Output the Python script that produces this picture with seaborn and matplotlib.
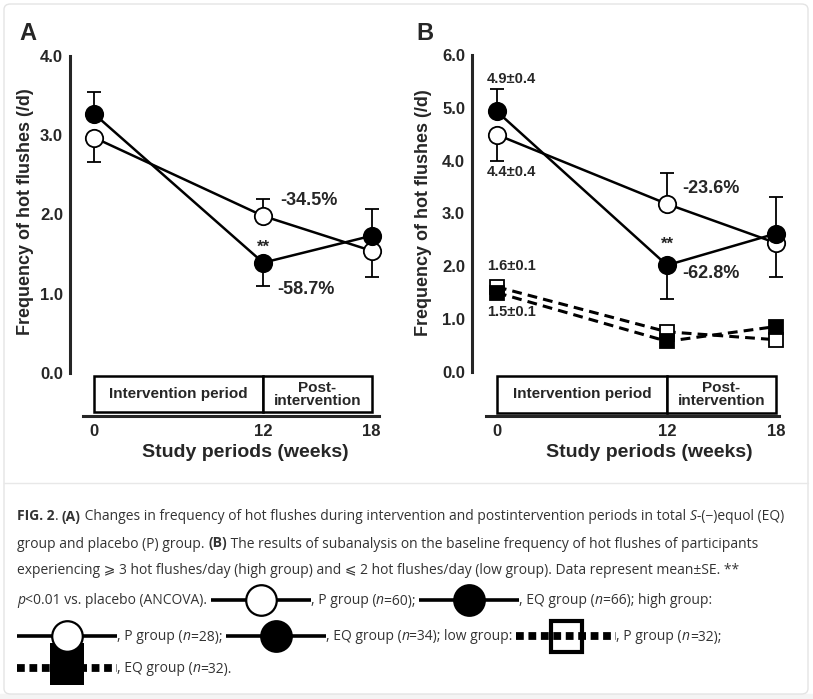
import matplotlib
matplotlib.use("Agg")
import matplotlib.pyplot as plt
import seaborn as sns
from matplotlib.lines import Line2D
from matplotlib.patches import Rectangle, FancyBboxPatch

# x axis (week 18 sits a little further out in the original)
weeks = ["0", "12", "18"]
week_pos = [0, 12, 19.7]

# A: total groups, mean and SE
a_p_mean = [2.97, 1.98, 1.54]
a_p_se = [0.31, 0.22, 0.33]
a_eq_mean = [3.27, 1.39, 1.73]
a_eq_se = [0.28, 0.30, 0.34]

# B: high group
b_hp_mean = [4.49, 3.18, 2.44]
b_hp_se = [0.49, 0.59, 0.64]
b_heq_mean = [4.93, 2.02, 2.62]
b_heq_se = [0.43, 0.64, 0.69]
# B: low group
b_lp_mean = [1.61, 0.76, 0.61]
b_leq_mean = [1.50, 0.58, 0.86]

# which side the SE bar is drawn on (+1 up, -1 down)
p_side = [-1, 1, -1]
eq_side = [1, -1, 1]

sns.set_style("white")
plt.rcParams['font.family'] = ['Liberation Sans', 'DejaVu Sans']

W, H = 813, 699
fig = plt.figure(figsize=(W / 100, H / 100), dpi=100)
fig.patch.set_facecolor('white')


def fx(px):
    return px / W


def fy(py):
    return 1 - py / H


# frame and separator
fig.add_artist(Rectangle((0, 0), 1, fy(694), transform=fig.transFigure, color='#f4f4f4', zorder=0))
fig.add_artist(FancyBboxPatch((fx(4), fy(694)), fx(804), 690 / H, boxstyle='round,pad=0,rounding_size=0.008',
                              transform=fig.transFigure, facecolor='white', edgecolor='#e4e4e4', lw=1, zorder=0))
fig.add_artist(Line2D([fx(4), fx(808)], [fy(483), fy(483)], transform=fig.transFigure, color='#e8e8e8', lw=1))


def split_err(se, side):
    lo = [e if s < 0 else 0 for e, s in zip(se, side)]
    hi = [e if s > 0 else 0 for e, s in zip(se, side)]
    return [lo, hi]


def draw_group(ax, mean, se, side, face):
    ax.errorbar(week_pos, mean, yerr=split_err(se, side), fmt='none', ecolor='black',
                elinewidth=1.3, capsize=5, capthick=1.3, zorder=2)
    sns.lineplot(x=week_pos, y=mean, ax=ax, color='black', lw=1.8, marker='o', markersize=12.5,
                 markerfacecolor=face, markeredgecolor='black', markeredgewidth=1.3, zorder=3)


def setup_axes(ax, ymax, box_top, box_bot, line_y, line_end, xlab_x, ylab_x, ylab_y):
    ax.set_facecolor('none')
    for s in ['top', 'right']:
        ax.spines[s].set_visible(False)
    ax.spines['left'].set_bounds(0, ymax)
    ax.spines['left'].set_linewidth(2.2)
    ax.spines['bottom'].set_position(('data', line_y))
    ax.spines['bottom'].set_bounds(-0.8, line_end)
    ax.spines['bottom'].set_linewidth(2.2)
    yt = list(range(0, ymax + 1))
    ax.set_yticks(yt)
    ax.set_yticklabels([f"{v:.1f}" for v in yt], fontweight='bold', fontsize=12)
    ax.tick_params(axis='y', direction='out', length=4, width=2, pad=1)
    ax.set_xticks(week_pos)
    ax.set_xticklabels(weeks, fontweight='bold', fontsize=12)
    ax.tick_params(axis='x', length=0, pad=6)
    ax.set_xlabel('Study periods (weeks)', fontsize=14, fontweight='bold')
    ax.xaxis.set_label_coords(xlab_x, 0.03)
    ax.set_ylabel('Frequency of hot flushes (/d)', fontsize=13, fontweight='bold', va='center')
    ax.yaxis.set_label_coords(ylab_x, ylab_y)
    # period boxes
    for x0, x1 in [(week_pos[0], week_pos[1]), (week_pos[1], week_pos[2])]:
        ax.add_patch(Rectangle((x0, box_bot), x1 - x0, box_top - box_bot, facecolor='white',
                               edgecolor='black', lw=1.8, zorder=1))
    ymid = (box_top + box_bot) / 2
    ax.text((week_pos[0] + week_pos[1]) / 2, ymid, 'Intervention period', ha='center', va='center',
            fontsize=11, fontweight='bold')
    ax.text((week_pos[1] + week_pos[2]) / 2, ymid, 'Post-\nintervention', ha='center', va='center',
            fontsize=11, fontweight='bold', linespacing=0.9)


# Panel A
axA = fig.add_axes([fx(70), fy(456), 320 / W, 408 / H])
axA.set_xlim(-1.7, 21)
axA.set_ylim(-1.05, 4.1)
draw_group(axA, a_p_mean, a_p_se, p_side, 'white')
draw_group(axA, a_eq_mean, a_eq_se, eq_side, 'black')
setup_axes(axA, 4, -0.04, -0.5, -0.54, 20.2, 0.547, -0.14, 0.598)
axA.text(13.2, 2.18, '-34.5%', fontsize=13, fontweight='bold', va='center')
axA.text(13.0, 1.05, '-58.7%', fontsize=13, fontweight='bold', va='center')
axA.text(12, 1.58, '**', fontsize=12, fontweight='bold', ha='center', va='center')
fig.text(fx(19), fy(33), 'A', fontsize=17, fontweight='bold', va='center')

# Panel B
axB = fig.add_axes([fx(472), fy(456.5), 322.5 / W, 409.5 / H])
axB.set_xlim(-1.76, 21)
axB.set_ylim(-1.6, 6.15)
draw_group(axB, b_hp_mean, b_hp_se, p_side, 'white')
draw_group(axB, b_heq_mean, b_heq_se, eq_side, 'black')
for mean, face in [(b_lp_mean, 'white'), (b_leq_mean, 'black')]:
    sns.lineplot(x=week_pos, y=mean, ax=axB, color='black', lw=2.2, linestyle=(0, (3.2, 2)),
                 marker='s', markersize=10, markerfacecolor=face, markeredgecolor='black',
                 markeredgewidth=1.3, zorder=3)
setup_axes(axB, 6, -0.07, -0.78, -0.83, 19.9, 0.549, -0.15, 0.595)
for txt, y in [('4.9±0.4', 5.55), ('4.4±0.4', 3.79), ('1.6±0.1', 2.0), ('1.5±0.1', 1.14)]:
    axB.text(1.0, y, txt, fontsize=10.5, fontweight='bold', ha='center', va='center')
axB.text(13.1, 3.48, '-23.6%', fontsize=13, fontweight='bold', va='center')
axB.text(13.1, 1.87, '-62.8%', fontsize=13, fontweight='bold', va='center')
axB.text(12, 2.42, '**', fontsize=12, fontweight='bold', ha='center', va='center')
fig.text(fx(416), fy(33), 'B', fontsize=17, fontweight='bold', va='center')

# caption
cap_font = ['Open Sans', 'DejaVu Sans']
cap_color = '#333333'
cap_size = 10
renderer = fig.canvas.get_renderer()
styles = {'n': {}, 'b': {'fontweight': 'bold'}, 'i': {'fontstyle': 'italic'}}


def text_w(s, kw):
    t = fig.text(0, 0, s + '|', **kw)
    bar = fig.text(0, 0, '|', **kw)
    w = t.get_window_extent(renderer).width - bar.get_window_extent(renderer).width
    t.remove()
    bar.remove()
    return w


def glyph(kind, x, y):
    w = 100
    xc = x + w / 2
    if kind in ('Pc', 'EQc'):
        fig.add_artist(Line2D([fx(x), fx(x + w)], [fy(y), fy(y)], transform=fig.transFigure,
                              color='black', lw=2.6, solid_capstyle='butt'))
        fig.add_artist(Line2D([fx(xc)], [fy(y)], transform=fig.transFigure, marker='o', ms=22,
                              mfc='white' if kind == 'Pc' else 'black', mec='black', mew=1.6))
    else:
        fig.add_artist(Line2D([fx(x), fx(x + w)], [fy(y), fy(y)], transform=fig.transFigure,
                              color='black', lw=5.6, linestyle=(0, (1, 0.6)), dash_capstyle='butt'))
        if kind == 'Plow':
            rw, rh = 31, 31
            fig.add_artist(Rectangle((fx(xc - rw / 2), fy(y + rh / 2)), rw / W, rh / H,
                                     transform=fig.transFigure, facecolor='white', edgecolor='black', lw=3))
        else:
            rw, rh = 34, 42
            fig.add_artist(Rectangle((fx(xc - rw / 2), fy(y + rh / 2 - 4)), rw / W, rh / H,
                                     transform=fig.transFigure, facecolor='black', edgecolor='black', lw=0))
    return w


caption = [
    (516, [('FIG. 2', 'b'), ('. ', 'n'), ('(A)', 'b'),
           (' Changes in frequency of hot flushes during intervention and postintervention periods in total ', 'n'),
           ('S', 'i'), ('-(−)equol (EQ)', 'n')]),
    (543, [('group and placebo (P) group. ', 'n'), ('(B)', 'b'),
           (' The results of subanalysis on the baseline frequency of hot flushes of participants', 'n')]),
    (570, [('experiencing ⩾ 3 hot flushes/day (high group) and ⩽ 2 hot flushes/day (low group). '
            'Data represent mean±SE. **', 'n')]),
    (600, [('p', 'i'), ('<0.01 vs. placebo (ANCOVA). ', 'n'), ('Pc', 'g'), (', P group (', 'n'), ('n', 'i'),
           ('=60); ', 'n'), ('EQc', 'g'), (', EQ group (', 'n'), ('n', 'i'), ('=66); high group:', 'n')]),
    (636, [('Pc', 'g'), (', P group (', 'n'), ('n', 'i'), ('=28); ', 'n'), ('EQc', 'g'), (', EQ group (', 'n'),
           ('n', 'i'), ('=34); low group: ', 'n'), ('Plow', 'g'), (', P group (', 'n'), ('n', 'i'),
           ('=32);', 'n')]),
    (668, [('EQlow', 'g'), (', EQ group (', 'n'), ('n', 'i'), ('=32).', 'n')]),
]

for yc, runs in caption:
    x = 17
    for s, st in runs:
        if st == 'g':
            x += glyph(s, x, yc)
            continue
        kw = dict(fontsize=cap_size, color=cap_color, family=cap_font, **styles[st])
        fig.text(fx(x), fy(yc + 4.5), s, va='baseline', ha='left', **kw)
        x += text_w(s, kw)

fig.savefig('out.png', dpi=100)
